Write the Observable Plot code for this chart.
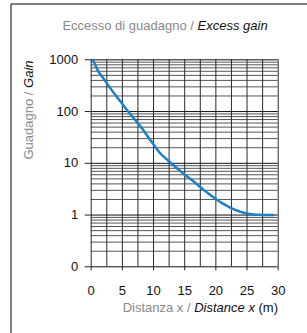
<!DOCTYPE html>
<html><head><meta charset="utf-8">
<script src="https://cdn.jsdelivr.net/npm/d3@7"></script>
<script src="https://cdn.jsdelivr.net/npm/@observablehq/plot@0.6"></script>
<style>body{margin:0;background:#fff}</style>
</head><body>
<div id="chart"></div>
<script>
const distance = [0.3,1,2,3,4,5,6,7,8,9,10,11,12,13,14,15,16,17,18,19,20,21,22,23,24,25,26,27,28,29.2];
const gain = [1000,640,430,290,200,140,98,70,50,34,23,16,12.3,9.6,7.6,6.0,4.9,3.9,3.1,2.5,2.05,1.7,1.45,1.27,1.15,1.07,1.03,1.01,1.0,1.0];
const xTicks = [0,5,10,15,20,25,30];
const xGrid = [0,2.5,5,7.5,10,12.5,15,17.5,20,22.5,25,27.5,30];
const yTicks = [0.1,1,10,100,1000];
const yTickLabels = ["0","1","10","100","1000"];
const yMinorSteps = [2,3,4,5,6,7,8,9];

const data = distance.map((d,i)=>({x:d, y:gain[i]}));
const yMinor = [];
for (const dec of yTicks.slice(0,-1)) for (const m of yMinorSteps) yMinor.push(dec*m);

const font = "'Liberation Sans', Arial, sans-serif";
const chart = Plot.plot({
  width: 307, height: 333,
  marginLeft: 90.7, marginRight: 29.3, marginTop: 59.3, marginBottom: 66.7,
  x: {domain: [0,30]},
  y: {type: "log", domain: [0.1,1000]},
  style: {fontFamily: font, fontSize: "13px", color: "#111", background: "white"},
  marks: [
    Plot.ruleY(yMinor, {stroke: "#555", strokeWidth: 1}),
    Plot.ruleX(xGrid, {stroke: "#2a2a2a", strokeWidth: 1}),
    Plot.ruleY(yTicks, {stroke: "#111", strokeWidth: 1}),
    Plot.axisY({ticks: yTicks, tickFormat: d => yTickLabels[yTicks.indexOf(d)], tickSize: 6, tickPadding: 7, label: null, fontSize: 13, stroke: "#222"}),
    Plot.axisX({ticks: xTicks, tickSize: 4, tickPadding: 15, label: null, fontSize: 13, stroke: "#222"}),
    Plot.line(data, {x: "x", y: "y", stroke: "#1b80c8", strokeWidth: 2.5, curve: "monotone-x"})
  ]
});
document.getElementById("chart").append(chart);

const svg = d3.select(chart);
svg.append("line").attr("x1",11).attr("x2",11).attr("y1",4).attr("y2",333).attr("stroke","#555").attr("stroke-width",1.5);
svg.append("line").attr("x1",11).attr("x2",307).attr("y1",4).attr("y2",4).attr("stroke","#555").attr("stroke-width",1.5);

function label(x, y, anchor, parts, rotate) {
  const t = svg.append("text").attr("font-family", font).attr("font-size", 13).attr("text-anchor", anchor);
  if (rotate) t.attr("transform", `translate(${x},${y}) rotate(-90)`); else t.attr("x", x).attr("y", y);
  for (const p of parts) {
    const s = t.append("tspan").text(p.t).attr("fill", p.c);
    if (p.i) s.attr("font-style", "italic");
  }
}
label(165, 30, "middle", [{t:"Eccesso di guadagno / ", c:"#8a8a8a"}, {t:"Excess gain", c:"#111", i:true}]);
label(278, 311.5, "end", [{t:"Distanza x / ", c:"#8a8a8a"}, {t:"Distance x", c:"#111", i:true}, {t:" (m)", c:"#111"}]);
label(32.5, 110, "middle", [{t:"Guadagno / ", c:"#8a8a8a"}, {t:"Gain", c:"#111", i:true}], true);
</script>
</body></html>
